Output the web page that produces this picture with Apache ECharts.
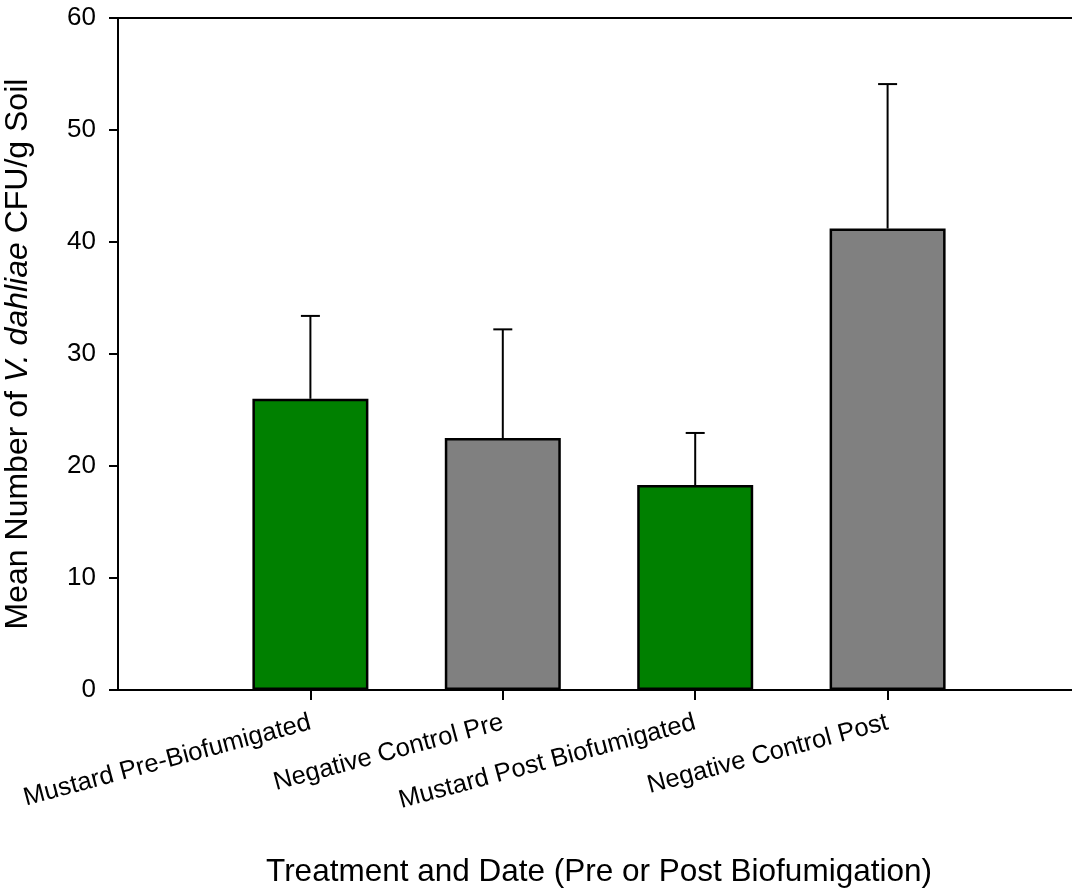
<!DOCTYPE html>
<html>
<head>
<meta charset="utf-8">
<script src="https://cdn.jsdelivr.net/npm/echarts@6/dist/echarts.min.js"></script>
<style>html,body{margin:0;padding:0;background:#fff}#c{width:1072px;height:888px}</style>
</head>
<body>
<div id="c"></div>
<script>
const categories = ['Mustard Pre-Biofumigated', 'Negative Control Pre', 'Mustard Post Biofumigated', 'Negative Control Post'];
const means = [26.0, 22.5, 18.3, 41.2];
const upperErrors = [33.4, 32.2, 22.95, 54.1];
const barColors = ['#008000', '#808080', '#008000', '#808080'];
const yTicks = [0, 10, 20, 30, 40, 50, 60];

const FONT = "'Liberation Sans', Arial, sans-serif";
const axisCats = [''].concat(categories, ['']);
const barData = [null].concat(means.map((v, i) => ({ value: v, itemStyle: { color: barColors[i] } })), [null]);
const errData = means.map((v, i) => [i + 1, v, upperErrors[i]]);

const chart = echarts.init(document.getElementById('c'), null, { renderer: 'canvas' });
chart.setOption({
  animation: false,
  backgroundColor: '#fff',
  grid: { left: 118, right: -8, top: 18, bottom: 198, outerBoundsMode: 'none', containLabel: false, show: true, borderColor: '#000', borderWidth: 2, backgroundColor: 'transparent' },
  xAxis: {
    type: 'category',
    data: axisCats,
    boundaryGap: false,
    axisLine: { lineStyle: { color: '#000', width: 2 } },
    axisTick: { length: 10, lineStyle: { color: '#000', width: 2 }, interval: (idx) => idx > 0 && idx < axisCats.length - 1 },
    axisLabel: { interval: 0, rotate: 15, margin: 32, color: '#000', fontSize: 25.5, fontFamily: FONT },
    splitLine: { show: false },
    name: 'Treatment and Date (Pre or Post Biofumigation)',
    nameLocation: 'middle',
    nameGap: 166,
    nameTextStyle: { color: '#000', fontSize: 31.5, fontFamily: FONT }
  },
  yAxis: {
    type: 'value',
    min: yTicks[0],
    max: yTicks[yTicks.length - 1],
    interval: yTicks[1] - yTicks[0],
    axisLine: { show: true, lineStyle: { color: '#000', width: 2 } },
    axisTick: { show: true, length: 9, lineStyle: { color: '#000', width: 2 } },
    axisLabel: { margin: 22, color: '#000', fontSize: 26, fontFamily: FONT },
    splitLine: { show: false },
    name: 'Mean Number of {i|V. dahliae} CFU/g Soil',
    nameLocation: 'middle',
    nameGap: 84,
    nameTextStyle: {
      color: '#000', fontSize: 32, fontFamily: FONT,
      rich: { i: { fontStyle: 'italic', fontSize: 32, fontFamily: FONT, color: '#000' } }
    }
  },
  series: [
    {
      type: 'bar',
      data: barData,
      barWidth: 116,
      itemStyle: { borderColor: '#000', borderWidth: 2.5 },
      z: 2
    },
    {
      type: 'custom',
      data: errData,
      z: 3,
      renderItem: function (params, api) {
        const base = api.coord([api.value(0), api.value(1)]);
        const top = api.coord([api.value(0), api.value(2)]);
        const hw = 9.5;
        const style = { stroke: '#000', lineWidth: 2 };
        return {
          type: 'group',
          children: [
            { type: 'line', shape: { x1: base[0], y1: base[1], x2: top[0], y2: top[1] }, style: style },
            { type: 'line', shape: { x1: top[0] - hw, y1: top[1], x2: top[0] + hw, y2: top[1] }, style: style }
          ]
        };
      }
    }
  ]
});
</script>
</body>
</html>
